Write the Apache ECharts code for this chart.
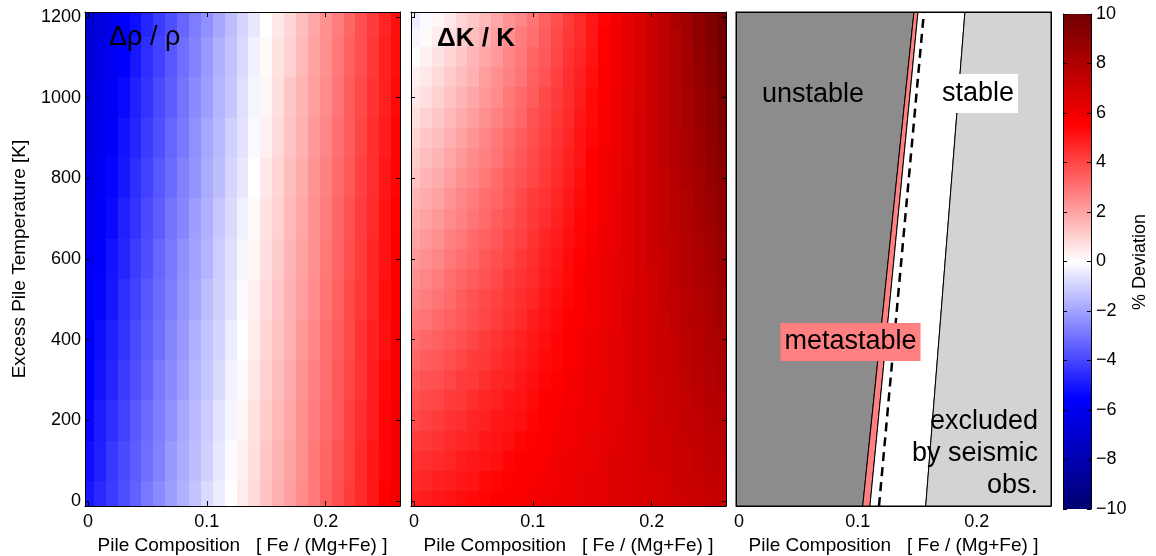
<!DOCTYPE html>
<html>
<head>
<meta charset="utf-8">
<script src="https://cdn.jsdelivr.net/npm/echarts@6/dist/echarts.min.js"></script>
<style>
  html, body { margin: 0; padding: 0; background: #fff; }
  #chart { width: 1156px; height: 556px; }
</style>
</head>
<body>
<div id="chart"></div>
<script>
// ---- data -------------------------------------------------------------
// Pile composition Fe/(Mg+Fe), column centres
const compositions = [0, 0.01, 0.02, 0.03, 0.04, 0.05, 0.06, 0.07, 0.08, 0.09, 0.10, 0.11, 0.12, 0.13,
  0.14, 0.15, 0.16, 0.17, 0.18, 0.19, 0.20, 0.21, 0.22, 0.23, 0.24, 0.25, 0.26];

// Excess pile temperature [K], row centres
const densityTemperatures = [0, 100, 200, 300, 400, 500, 600, 700, 800, 900, 1000, 1100, 1200];
const bulkTemperatures = [0, 50, 100, 150, 200, 250, 300, 350, 400, 450, 500, 550, 600, 650, 700,
  750, 800, 850, 900, 950, 1000, 1050, 1100, 1150, 1200];

// Density deviation, % (rows follow densityTemperatures)
const densityContrast = [
  [-5.0,-4.6,-4.2,-3.8,-3.4,-2.9,-2.5,-2.1,-1.7,-1.3,-0.8,-0.4,0.0,0.4,0.8,1.3,1.7,2.1,2.5,2.9,3.4,3.8,4.2,4.6,5.0,5.5,5.9],
  [-5.2,-4.8,-4.3,-3.9,-3.5,-3.1,-2.7,-2.2,-1.8,-1.4,-1.0,-0.5,-0.1,0.3,0.7,1.2,1.6,2.0,2.4,2.9,3.3,3.7,4.1,4.6,5.0,5.4,5.8],
  [-5.4,-4.9,-4.5,-4.1,-3.6,-3.2,-2.8,-2.4,-1.9,-1.5,-1.1,-0.6,-0.2,0.2,0.6,1.1,1.5,1.9,2.4,2.8,3.2,3.6,4.1,4.5,4.9,5.4,5.8],
  [-5.5,-5.1,-4.7,-4.2,-3.8,-3.4,-2.9,-2.5,-2.1,-1.6,-1.2,-0.8,-0.3,0.1,0.5,1.0,1.4,1.8,2.3,2.7,3.1,3.6,4.0,4.4,4.9,5.3,5.7],
  [-5.7,-5.2,-4.8,-4.4,-3.9,-3.5,-3.1,-2.6,-2.2,-1.7,-1.3,-0.9,-0.4,0.0,0.4,0.9,1.3,1.7,2.2,2.6,3.1,3.5,3.9,4.4,4.8,5.2,5.7],
  [-5.8,-5.4,-5.0,-4.5,-4.1,-3.6,-3.2,-2.8,-2.3,-1.9,-1.4,-1.0,-0.6,-0.1,0.3,0.8,1.2,1.7,2.1,2.5,3.0,3.4,3.9,4.3,4.7,5.2,5.6],
  [-6.0,-5.6,-5.1,-4.7,-4.2,-3.8,-3.3,-2.9,-2.4,-2.0,-1.6,-1.1,-0.7,-0.2,0.2,0.7,1.1,1.6,2.0,2.4,2.9,3.3,3.8,4.2,4.7,5.1,5.6],
  [-6.2,-5.7,-5.3,-4.8,-4.4,-3.9,-3.5,-3.0,-2.6,-2.1,-1.7,-1.2,-0.8,-0.3,0.1,0.6,1.0,1.5,1.9,2.4,2.8,3.3,3.7,4.2,4.6,5.1,5.5],
  [-6.3,-5.9,-5.4,-5.0,-4.5,-4.1,-3.6,-3.2,-2.7,-2.3,-1.8,-1.4,-0.9,-0.5,0.0,0.5,0.9,1.4,1.8,2.3,2.7,3.2,3.6,4.1,4.5,5.0,5.4],
  [-6.5,-6.1,-5.6,-5.1,-4.7,-4.2,-3.8,-3.3,-2.9,-2.4,-1.9,-1.5,-1.0,-0.6,-0.1,0.3,0.8,1.3,1.7,2.2,2.6,3.1,3.5,4.0,4.5,4.9,5.4],
  [-6.7,-6.2,-5.8,-5.3,-4.8,-4.4,-3.9,-3.5,-3.0,-2.5,-2.1,-1.6,-1.2,-0.7,-0.2,0.2,0.7,1.2,1.6,2.1,2.5,3.0,3.5,3.9,4.4,4.8,5.3],
  [-6.9,-6.4,-5.9,-5.5,-5.0,-4.5,-4.1,-3.6,-3.1,-2.7,-2.2,-1.7,-1.3,-0.8,-0.3,0.1,0.6,1.0,1.5,2.0,2.4,2.9,3.4,3.8,4.3,4.8,5.2],
  [-7.1,-6.6,-6.1,-5.6,-5.2,-4.7,-4.2,-3.8,-3.3,-2.8,-2.4,-1.9,-1.4,-0.9,-0.5,0.0,0.5,0.9,1.4,1.9,2.4,2.8,3.3,3.8,4.2,4.7,5.2]
];

// Bulk modulus deviation, % (rows follow bulkTemperatures)
const bulkModulusContrast = [
  [4.8,4.9,5.0,5.1,5.2,5.3,5.4,5.5,5.6,5.7,5.8,5.9,6.0,6.1,6.2,6.3,6.4,6.5,6.6,6.7,6.8,6.9,7.0,7.1,7.2,7.3,7.4],
  [4.6,4.7,4.8,4.9,5.0,5.1,5.3,5.4,5.5,5.6,5.7,5.8,5.9,6.0,6.2,6.3,6.4,6.5,6.6,6.7,6.8,6.9,7.1,7.2,7.3,7.4,7.5],
  [4.4,4.5,4.6,4.7,4.9,5.0,5.1,5.2,5.4,5.5,5.6,5.7,5.9,6.0,6.1,6.2,6.4,6.5,6.6,6.7,6.9,7.0,7.1,7.2,7.4,7.5,7.6],
  [4.2,4.3,4.4,4.6,4.7,4.8,5.0,5.1,5.2,5.4,5.5,5.6,5.8,5.9,6.0,6.2,6.3,6.5,6.6,6.7,6.9,7.0,7.2,7.3,7.4,7.6,7.7],
  [3.9,4.1,4.2,4.4,4.5,4.7,4.8,5.0,5.1,5.2,5.4,5.5,5.7,5.8,6.0,6.1,6.3,6.4,6.6,6.7,6.9,7.1,7.2,7.4,7.5,7.7,7.8],
  [3.7,3.9,4.0,4.2,4.3,4.5,4.7,4.8,5.0,5.1,5.3,5.5,5.6,5.8,5.9,6.1,6.3,6.4,6.6,6.8,6.9,7.1,7.3,7.4,7.6,7.8,7.9],
  [3.5,3.7,3.8,4.0,4.2,4.3,4.5,4.7,4.8,5.0,5.2,5.4,5.5,5.7,5.9,6.1,6.2,6.4,6.6,6.8,7.0,7.1,7.3,7.5,7.7,7.9,8.1],
  [3.3,3.5,3.6,3.8,4.0,4.2,4.3,4.5,4.7,4.9,5.1,5.3,5.4,5.6,5.8,6.0,6.2,6.4,6.6,6.8,7.0,7.2,7.4,7.6,7.8,8.0,8.2],
  [3.1,3.3,3.4,3.6,3.8,4.0,4.2,4.4,4.6,4.8,5.0,5.2,5.4,5.6,5.8,6.0,6.2,6.4,6.6,6.8,7.0,7.2,7.4,7.6,7.8,8.1,8.3],
  [2.9,3.0,3.2,3.4,3.6,3.8,4.0,4.2,4.4,4.6,4.9,5.1,5.3,5.5,5.7,5.9,6.1,6.3,6.6,6.8,7.0,7.2,7.5,7.7,7.9,8.1,8.4],
  [2.6,2.8,3.0,3.2,3.5,3.7,3.9,4.1,4.3,4.5,4.7,5.0,5.2,5.4,5.6,5.9,6.1,6.3,6.6,6.8,7.0,7.3,7.5,7.7,8.0,8.2,8.5],
  [2.4,2.6,2.8,3.1,3.3,3.5,3.7,3.9,4.2,4.4,4.6,4.9,5.1,5.3,5.6,5.8,6.1,6.3,6.5,6.8,7.0,7.3,7.6,7.8,8.1,8.3,8.6],
  [2.2,2.4,2.6,2.9,3.1,3.3,3.6,3.8,4.0,4.3,4.5,4.8,5.0,5.3,5.5,5.8,6.0,6.3,6.5,6.8,7.1,7.3,7.6,7.9,8.1,8.4,8.7],
  [2.0,2.2,2.4,2.7,2.9,3.2,3.4,3.6,3.9,4.1,4.4,4.7,4.9,5.2,5.4,5.7,6.0,6.2,6.5,6.8,7.1,7.4,7.6,7.9,8.2,8.5,8.8],
  [1.8,2.0,2.2,2.5,2.7,3.0,3.2,3.5,3.7,4.0,4.3,4.5,4.8,5.1,5.4,5.6,5.9,6.2,6.5,6.8,7.1,7.4,7.7,8.0,8.3,8.6,8.9],
  [1.6,1.8,2.0,2.3,2.6,2.8,3.1,3.3,3.6,3.9,4.2,4.4,4.7,5.0,5.3,5.6,5.9,6.2,6.5,6.8,7.1,7.4,7.7,8.0,8.4,8.7,9.0],
  [1.3,1.6,1.8,2.1,2.4,2.6,2.9,3.2,3.5,3.7,4.0,4.3,4.6,4.9,5.2,5.5,5.8,6.1,6.5,6.8,7.1,7.4,7.8,8.1,8.4,8.8,9.1],
  [1.1,1.4,1.6,1.9,2.2,2.5,2.7,3.0,3.3,3.6,3.9,4.2,4.5,4.8,5.1,5.5,5.8,6.1,6.4,6.8,7.1,7.5,7.8,8.2,8.5,8.9,9.2],
  [0.9,1.2,1.4,1.7,2.0,2.3,2.6,2.9,3.2,3.5,3.8,4.1,4.4,4.7,5.1,5.4,5.7,6.1,6.4,6.8,7.1,7.5,7.8,8.2,8.6,9.0,9.4],
  [0.7,1.0,1.2,1.5,1.8,2.1,2.4,2.7,3.0,3.3,3.7,4.0,4.3,4.6,5.0,5.3,5.7,6.0,6.4,6.8,7.1,7.5,7.9,8.3,8.7,9.1,9.5],
  [0.5,0.7,1.0,1.3,1.6,1.9,2.2,2.5,2.9,3.2,3.5,3.9,4.2,4.5,4.9,5.3,5.6,6.0,6.4,6.7,7.1,7.5,7.9,8.3,8.7,9.1,9.6],
  [0.3,0.5,0.8,1.1,1.4,1.7,2.1,2.4,2.7,3.0,3.4,3.7,4.1,4.5,4.8,5.2,5.6,5.9,6.3,6.7,7.1,7.5,8.0,8.4,8.8,9.2,9.7],
  [0.0,0.3,0.6,0.9,1.2,1.6,1.9,2.2,2.6,2.9,3.3,3.6,4.0,4.4,4.7,5.1,5.5,5.9,6.3,6.7,7.1,7.6,8.0,8.4,8.9,9.3,9.8],
  [-0.2,0.1,0.4,0.7,1.1,1.4,1.7,2.1,2.4,2.8,3.1,3.5,3.9,4.3,4.6,5.0,5.5,5.9,6.3,6.7,7.1,7.6,8.0,8.5,9.0,9.4,9.9],
  [-0.4,-0.1,0.2,0.5,0.9,1.2,1.5,1.9,2.3,2.6,3.0,3.4,3.8,4.2,4.6,5.0,5.4,5.8,6.3,6.7,7.1,7.6,8.1,8.5,9.0,9.5,10.0]
];

// Stability regimes: boundary compositions at the bottom and top of the temperature range
const phaseTemperatures = [-12, 1212];
const unstableLimit = [0.1041, 0.1472];
const metastableLimit = [0.1102, 0.1506];
const neutralBuoyancy = [0.1178, 0.1556];
const seismicLimit = [0.1571, 0.1901];

// Tick values
const compositionTicks = [0, 0.1, 0.2];
const temperatureTicks = [0, 200, 400, 600, 800, 1000, 1200];
const deviationTicks = [-10, -8, -6, -4, -2, 0, 2, 4, 6, 8, 10];

// Diverging colour scale for % deviation
const deviationScale = [
  [-10, [0, 0, 112]],
  [-5.5, [0, 0, 255]],
  [0, [255, 255, 255]],
  [5.5, [255, 0, 0]],
  [10, [112, 0, 0]]
];

// ---- helpers ------------------------------------------------------------
const FONT = '"Liberation Sans", Arial, Helvetica, sans-serif';
const X_RANGE = [-0.0025, 0.2625];
const T_RANGE = [-12, 1212];
const PLOT_TOP = 12, PLOT_H = 494, PLOT_W = 315;
const PANEL_LEFT = [85, 411, 736];
const CBAR = { left: 1063, top: 14, width: 28, height: 495 };

function rgbHex(c) {
  return '#' + c.map(v => Math.round(v).toString(16).padStart(2, '0')).join('');
}
function deviationColor(v) {
  const s = deviationScale;
  if (v <= s[0][0]) return rgbHex(s[0][1]);
  for (let i = 1; i < s.length; i++) {
    if (v <= s[i][0]) {
      const f = (v - s[i - 1][0]) / (s[i][0] - s[i - 1][0]);
      return rgbHex(s[i - 1][1].map((a, k) => a + (s[i][1][k] - a) * f));
    }
  }
  return rgbHex(s[s.length - 1][1]);
}
function fmtPlain(v) { return String(v); }
function fmtDeviation(v) { return v < 0 ? '\u2212' + Math.abs(v) : String(v); }

function gridData(xs, ts, values) {
  const out = [];
  ts.forEach((t, i) => xs.forEach((x, j) => out.push([x, t, values[i][j]])));
  return out;
}

function cellRenderer(xs, ts) {
  const dx = xs[1] - xs[0], dt = ts[1] - ts[0];
  return function (params, api) {
    const x = api.value(0), t = api.value(1), v = api.value(2);
    const a = api.coord([Math.max(x - dx / 2, X_RANGE[0]), Math.min(t + dt / 2, T_RANGE[1])]);
    const b = api.coord([Math.min(x + dx / 2, X_RANGE[1]), Math.max(t - dt / 2, T_RANGE[0])]);
    const x0 = Math.round(a[0]), x1 = Math.round(b[0]);
    const y0 = Math.round(a[1]), y1 = Math.round(b[1]);
    return {
      type: 'rect',
      shape: { x: x0, y: y0, width: x1 - x0, height: y1 - y0 },
      style: { fill: deviationColor(v) }
    };
  };
}

const axisLine = { show: true, onZero: false, lineStyle: { color: '#000', width: 1 } };
const labelStyle = { color: '#000', fontSize: 18, fontFamily: FONT };

function compositionAxes(gridIndex, showTicks) {
  const tick = { show: showTicks, inside: true, length: 5, customValues: compositionTicks,
    lineStyle: { color: '#000', width: 1 } };
  return [
    { gridIndex, type: 'value', position: 'bottom', min: X_RANGE[0], max: X_RANGE[1], z: 10,
      axisLine, axisTick: tick, splitLine: { show: false },
      axisLabel: Object.assign({ customValues: compositionTicks, margin: 7, formatter: fmtPlain }, labelStyle),
      name: 'Pile Composition   [ Fe / (Mg+Fe) ]', nameLocation: 'middle', nameGap: 27,
      nameTextStyle: { color: '#000', fontSize: 19, fontFamily: FONT } },
    { gridIndex, type: 'value', position: 'top', min: X_RANGE[0], max: X_RANGE[1], z: 10,
      axisLine, axisTick: tick, splitLine: { show: false }, axisLabel: { show: false } }
  ];
}
function temperatureAxes(gridIndex, showTicks, showLabels) {
  const tick = { show: showTicks, inside: true, length: 4, customValues: temperatureTicks,
    lineStyle: { color: '#000', width: 1 } };
  return [
    { gridIndex, type: 'value', position: 'left', min: T_RANGE[0], max: T_RANGE[1], z: 10,
      axisLine, axisTick: tick, splitLine: { show: false },
      axisLabel: Object.assign({ show: showLabels, customValues: temperatureTicks, margin: 4,
        formatter: fmtPlain }, labelStyle) },
    { gridIndex, type: 'value', position: 'right', min: T_RANGE[0], max: T_RANGE[1], z: 10,
      axisLine, axisTick: tick, splitLine: { show: false }, axisLabel: { show: false } }
  ];
}

// ---- stability regimes ------------------------------------------------------
const regimeEdges = [
  [X_RANGE[0], X_RANGE[0]],
  unstableLimit,
  metastableLimit,
  seismicLimit,
  [X_RANGE[1], X_RANGE[1]]
];
const regimeFills = ['#8c8c8c', '#ff8080', '#ffffff', '#d3d3d3'];

function regimeRenderer(params, api) {
  const k = params.dataIndex;
  const lo = regimeEdges[k], hi = regimeEdges[k + 1];
  const tb = phaseTemperatures[0], tt = phaseTemperatures[1];
  const pts = [[lo[0], tb], [hi[0], tb], [hi[1], tt], [lo[1], tt]].map(p => api.coord(p));
  return {
    type: 'polygon',
    shape: { points: pts },
    style: { fill: regimeFills[k], stroke: '#000', lineWidth: 1 }
  };
}

// ---- option ---------------------------------------------------------------
const grids = PANEL_LEFT.map(left => ({ left, top: PLOT_TOP, width: PLOT_W, height: PLOT_H,
  containLabel: false, outerBoundsMode: 'none' }));
grids.push({ left: CBAR.left, top: CBAR.top, width: CBAR.width, height: CBAR.height,
  containLabel: false, outerBoundsMode: 'none' });

const xAxes = [].concat(
  compositionAxes(0, true), compositionAxes(1, true), compositionAxes(2, false),
  [{ gridIndex: 3, type: 'value', min: 0, max: 1, show: false }]
);
const yAxes = [].concat(
  temperatureAxes(0, true, true), temperatureAxes(1, true, false), temperatureAxes(2, false, false),
  [
    { gridIndex: 3, type: 'value', position: 'left', min: -10, max: 10, interval: 2, z: 10,
      axisLine, splitLine: { show: false }, axisLabel: { show: false },
      axisTick: { show: true, inside: true, length: 4, lineStyle: { color: '#000' } } },
    { gridIndex: 3, type: 'value', position: 'right', min: -10, max: 10, interval: 2, z: 10,
      axisLine, splitLine: { show: false },
      axisTick: { show: true, inside: true, length: 4, lineStyle: { color: '#000' } },
      axisLabel: Object.assign({ margin: 5, formatter: fmtDeviation,
        customValues: deviationTicks }, labelStyle) }
  ]
);

const colorbarStops = deviationScale.map(([v, c]) => ({ offset: (10 - v) / 20, color: rgbHex(c) }))
  .sort((a, b) => a.offset - b.offset);

const option = {
  animation: false,
  backgroundColor: '#fff',
  grid: grids,
  xAxis: xAxes,
  yAxis: yAxes,
  series: [
    { type: 'custom', name: 'density', xAxisIndex: 0, yAxisIndex: 0, silent: true,
      encode: { x: 0, y: 1 },
      data: gridData(compositions, densityTemperatures, densityContrast),
      renderItem: cellRenderer(compositions, densityTemperatures) },
    { type: 'custom', name: 'bulk modulus', xAxisIndex: 2, yAxisIndex: 2, silent: true,
      encode: { x: 0, y: 1 },
      data: gridData(compositions, bulkTemperatures, bulkModulusContrast),
      renderItem: cellRenderer(compositions, bulkTemperatures) },
    { type: 'custom', name: 'regimes', xAxisIndex: 4, yAxisIndex: 4, silent: true,
      data: [0, 1, 2, 3], renderItem: regimeRenderer },
    { type: 'line', name: 'neutral buoyancy', xAxisIndex: 4, yAxisIndex: 4, silent: true,
      symbol: 'none', z: 5,
      data: [[neutralBuoyancy[0], phaseTemperatures[0]], [neutralBuoyancy[1], phaseTemperatures[1]]],
      lineStyle: { color: '#000', width: 2.5, type: [9, 6] } }
  ],
  graphic: [
    { type: 'rect', silent: true, z: 1,
      shape: { x: CBAR.left, y: CBAR.top, width: CBAR.width, height: CBAR.height },
      style: { fill: { type: 'linear', x: 0, y: 0, x2: 0, y2: 1, colorStops: colorbarStops } } },
    { type: 'text', x: 109, y: 38, z: 20, silent: true,
      style: { text: '\u0394\u03c1 / \u03c1', fill: '#000', font: '27px ' + FONT, align: 'left', verticalAlign: 'middle' } },
    { type: 'text', x: 437, y: 39, z: 20, silent: true,
      style: { text: '\u0394K / K', fill: '#000', font: 'bold 26px ' + FONT, align: 'left', verticalAlign: 'middle' } },
    { type: 'text', x: 813, y: 95, z: 20, silent: true,
      style: { text: 'unstable', fill: '#000', font: '27px ' + FONT, align: 'center', verticalAlign: 'middle' } },
    { type: 'text', x: 978, y: 93.5, z: 20, silent: true,
      style: { text: 'stable', fill: '#000', font: '27px ' + FONT, align: 'center', verticalAlign: 'middle',
        backgroundColor: '#fff', padding: [4, 4], lineHeight: 31 } },
    { type: 'text', x: 850.5, y: 342, z: 20, silent: true,
      style: { text: 'metastable', fill: '#000', font: '27px ' + FONT, align: 'center', verticalAlign: 'middle',
        backgroundColor: '#ff8080', padding: [4, 4], lineHeight: 30 } },
    { type: 'text', x: 1038, y: 453.5, z: 20, silent: true,
      style: { text: 'excluded\nby seismic\nobs.', fill: '#000', font: '27px ' + FONT, align: 'right',
        verticalAlign: 'middle', lineHeight: 32 } },
    { type: 'text', x: 20, y: 259, rotation: Math.PI / 2, z: 20, silent: true,
      style: { text: 'Excess Pile Temperature [K]', fill: '#000', font: '19px ' + FONT,
        align: 'center', verticalAlign: 'middle' } },
    { type: 'text', x: 1140, y: 262, rotation: Math.PI / 2, z: 20, silent: true,
      style: { text: '% Deviation', fill: '#000', font: '18px ' + FONT,
        align: 'center', verticalAlign: 'middle' } }
  ]
};

const chart = echarts.init(document.getElementById('chart'), null, { renderer: 'canvas' });
chart.setOption(option);
</script>
</body>
</html>
